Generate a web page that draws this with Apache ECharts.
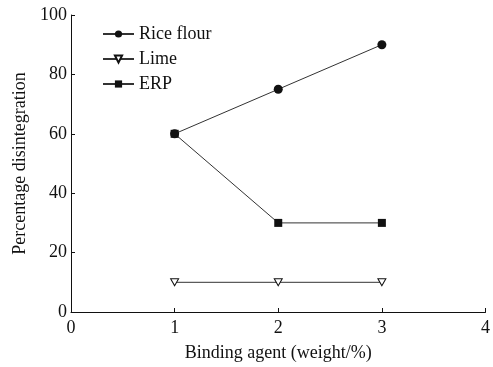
<!DOCTYPE html>
<html>
<head>
<meta charset="utf-8">
<script src="https://cdn.jsdelivr.net/npm/echarts@6/dist/echarts.min.js"></script>
<style>
html,body{margin:0;padding:0;background:#fff;}
#chart{width:493px;height:367px;}
</style>
</head>
<body>
<div id="chart"></div>
<script>
// Binding agent content (weight %)
const bindingAgent = [1, 2, 3];
// Percentage disintegration for each binder
const riceFlour = [60, 75, 90];
const lime = [10, 10, 10];
const erp = [60, 30, 30];

const xTicks = [0, 1, 2, 3, 4];
const yTicks = [0, 20, 40, 60, 80, 100];

const font = '"Liberation Serif", "Times New Roman", serif';
const ink = '#111';
const fs = 18;

function pairs(xs, ys) { return xs.map((x, i) => [x, ys[i]]); }

const chart = echarts.init(document.getElementById('chart'), null, { renderer: 'canvas' });
chart.setOption({
  animation: false,
  backgroundColor: '#fff',
  textStyle: { fontFamily: font, color: ink },
  grid: { left: 71, right: 6, top: 15, bottom: 53, containLabel: false },
  legend: {
    orient: 'vertical',
    left: 97,
    top: 20,
    itemWidth: 31,
    itemHeight: 9,
    itemGap: 7,
    textStyle: { fontFamily: font, fontSize: fs, color: ink },
    data: ['Rice flour', 'Lime', 'ERP']
  },
  xAxis: {
    type: 'value',
    min: xTicks[0],
    max: xTicks[xTicks.length - 1],
    interval: 1,
    name: 'Binding agent (weight/%)',
    nameLocation: 'middle',
    nameGap: 32,
    nameTextStyle: { fontFamily: font, fontSize: fs, color: ink },
    axisLine: { lineStyle: { color: ink, width: 1 } },
    axisTick: { inside: true, length: 4, lineStyle: { color: ink } },
    axisLabel: { fontFamily: font, fontSize: fs, color: ink, margin: 7 },
    splitLine: { show: false }
  },
  yAxis: {
    type: 'value',
    min: yTicks[0],
    max: yTicks[yTicks.length - 1],
    interval: 20,
    name: 'Percentage disintegration',
    nameLocation: 'middle',
    nameGap: 40,
    nameTextStyle: { fontFamily: font, fontSize: fs, color: ink },
    axisLine: { show: true, lineStyle: { color: ink, width: 1 } },
    axisTick: { show: true, inside: true, length: 4, lineStyle: { color: ink } },
    axisLabel: { fontFamily: font, fontSize: fs, color: ink, margin: 4 },
    splitLine: { show: false }
  },
  series: [
    {
      name: 'Lime', type: 'line', data: pairs(bindingAgent, lime),
      symbol: 'triangle', symbolRotate: 180, symbolSize: [8, 7],
      itemStyle: { color: '#fff', borderColor: ink, borderWidth: 1 },
      lineStyle: { color: '#333', width: 1 }, z: 2
    },
    {
      name: 'ERP', type: 'line', data: pairs(bindingAgent, erp),
      symbol: 'rect', symbolSize: 8,
      itemStyle: { color: ink },
      lineStyle: { color: '#333', width: 1 }, z: 2
    },
    {
      name: 'Rice flour', type: 'line', data: pairs(bindingAgent, riceFlour),
      symbol: 'circle', symbolSize: 9,
      itemStyle: { color: ink },
      lineStyle: { color: '#333', width: 1 }, z: 3
    }
  ]
});
</script>
</body>
</html>
